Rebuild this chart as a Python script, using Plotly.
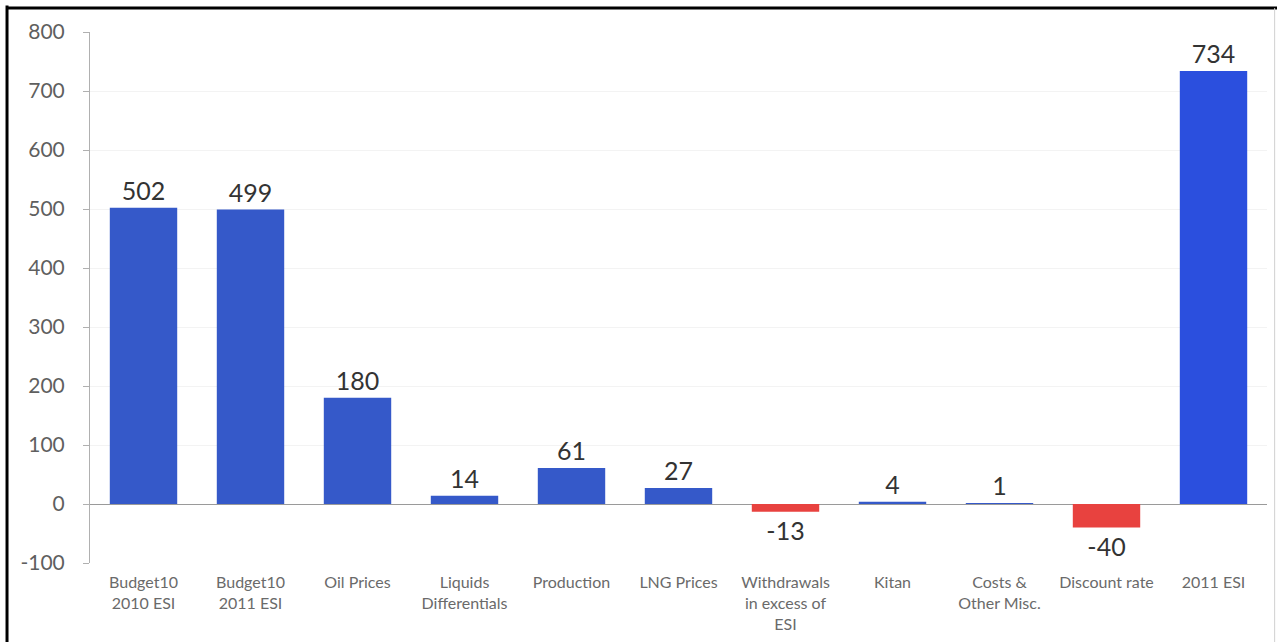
import plotly.graph_objects as go

# Change in value by driver (bars start from zero)
categories = [
    "Budget10<br>2010 ESI", "Budget10<br>2011 ESI", "Oil Prices", "Liquids<br>Differentials",
    "Production", "LNG Prices", "Withdrawals<br>in excess of<br>ESI", "Kitan",
    "Costs &<br>Other Misc.", "Discount rate", "2011 ESI",
]
values = [502, 499, 180, 14, 61, 27, -13, 4, 1, -40, 734]
y_ticks = [-100, 0, 100, 200, 300, 400, 500, 600, 700, 800]
y_tick_labels = ["-100", "0", "100", "200", "300", "400", "500", "600", "700", "800"]

BLUE = "#3559c9"
BLUE_END = "#2b4fde"
RED = "#e8423f"
colors = [RED if v < 0 else BLUE for v in values]
colors[-1] = BLUE_END

FONT = "Lato, Open Sans, sans-serif"

fig = go.Figure(
    go.Bar(
        x=categories,
        y=values,
        marker=dict(color=colors, line=dict(width=0)),
        text=[str(v) for v in values],
        textposition="outside",
        textfont=dict(family=FONT, size=25, color="#333333"),
        cliponaxis=False,
    )
)

fig.update_layout(
    width=1277,
    height=642,
    margin=dict(l=90, r=10, t=32, b=79),
    paper_bgcolor="white",
    plot_bgcolor="white",
    bargap=0.37,
    showlegend=False,
    font=dict(family=FONT),
    uniformtext=dict(mode=False),
)

fig.update_yaxes(
    range=[-100, 800],
    tickvals=y_ticks,
    ticktext=y_tick_labels,
    tickfont=dict(family=FONT, size=21, color="#5f5f5f"),
    showgrid=True,
    gridcolor="#f3f3f3",
    gridwidth=1,
    zeroline=True,
    zerolinecolor="#9a9a9a",
    zerolinewidth=1,
    showline=True,
    linecolor="#b0b0b0",
    linewidth=1,
    ticks="outside",
    ticklen=6,
    tickcolor="#b0b0b0",
    ticklabelstandoff=14,
)

fig.update_xaxes(
    showgrid=False,
    showline=False,
    ticks="",
    tickfont=dict(family=FONT, size=16, color="#6a6a6a"),
    tickangle=0,
    ticklabelstandoff=8,
)

# Frame around the chart
fig.add_shape(type="line", xref="paper", yref="paper",
              x0=-0.0705, x1=-0.0705, y0=1.05, y1=-0.2,
              line=dict(color="black", width=3))
fig.add_shape(type="line", xref="paper", yref="paper",
              x0=-0.0705, x1=1.01, y0=1.045, y1=1.045,
              line=dict(color="black", width=3))
fig.add_shape(type="line", xref="paper", yref="paper",
              x0=1.0065, x1=1.0065, y0=1.045, y1=-0.2,
              line=dict(color="#d0d0d0", width=1))

fig.write_html("out.html")
